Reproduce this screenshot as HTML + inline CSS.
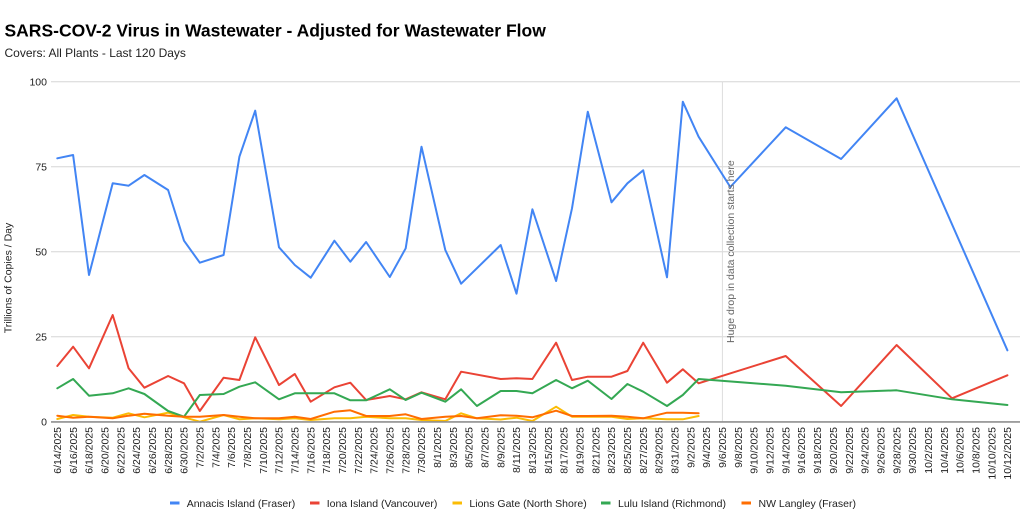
<!DOCTYPE html>
<html>
<head>
<meta charset="utf-8">
<style>
  html, body { margin: 0; padding: 0; background: #ffffff; }
  body { width: 1024px; height: 521px; overflow: hidden; }
  svg { display: block; font-family: "Liberation Sans", Arial, sans-serif; }
</style>
</head>
<body>
<svg width="1024" height="521" viewBox="0 0 1024 521" xmlns="http://www.w3.org/2000/svg">
  <rect x="0" y="0" width="1024" height="521" fill="#ffffff"/>

  <!-- Title -->
  <text x="4.5" y="36.5" font-size="17.5" font-weight="bold" fill="#000">SARS-COV-2 Virus in Wastewater - Adjusted for Wastewater Flow</text>
  <text x="4.5" y="57" font-size="12" fill="#222">Covers: All Plants - Last 120 Days</text>

  <!-- Gridlines -->
  <g stroke="#d6d6d6" stroke-width="1">
    <line x1="51" y1="81.8" x2="1020" y2="81.8"/>
    <line x1="51" y1="166.8" x2="1020" y2="166.8"/>
    <line x1="51" y1="251.8" x2="1020" y2="251.8"/>
    <line x1="51" y1="336.8" x2="1020" y2="336.8"/>
  </g>

  <!-- annotation line -->
  <line x1="722.4" y1="81.8" x2="722.4" y2="421.7" stroke="#dcdcdc" stroke-width="1"/>

  <!-- Y tick labels -->
  <g font-size="10.5" fill="#222" text-anchor="end">
    <text x="47" y="85.5">100</text>
    <text x="47" y="170.5">75</text>
    <text x="47" y="255.5">50</text>
    <text x="47" y="340.5">25</text>
    <text x="47" y="425.5">0</text>
  </g>

  <!-- Y axis title -->
  <text transform="translate(11.5,278) rotate(-90)" font-size="10.5" fill="#222" text-anchor="middle">Trillions of Copies / Day</text>

  <!-- Series -->
  <g fill="none" stroke-width="2" stroke-linejoin="round" stroke-linecap="round">
    <polyline stroke="#4285f4" points="57.3,158.3 73.1,155 89,275 112.7,183.3 128.6,185.7 144.4,175 168.1,190 184,240.7 199.8,262.7 223.6,255 239.4,156.7 255.2,110.7 279,247.3 294.8,265 310.7,277.7 334.4,240.7 350.3,261.7 366.1,242 389.8,277 405.7,248.3 421.5,146.7 445.3,250 461.1,283.7 500.7,245 516.5,293.7 532.4,209.3 556.1,281 572,208.3 587.8,111.7 611.5,202.3 627.4,183.3 643.2,170.3 667,277.3 682.8,101.7 698.6,136.7 730.3,187 785.7,127.3 841.1,159 896.6,98.3 1007.4,350.3"/>
    <polyline stroke="#ea4335" points="57.3,366 73.1,346.7 89,368.3 112.7,315 128.6,368.3 144.4,387.7 168.1,376 184,383.3 199.8,411 223.6,377.7 239.4,380 255.2,337.3 279,385 294.8,374 310.7,401.7 334.4,387.3 350.3,382.7 366.1,400 389.8,396 405.7,399.3 421.5,392.3 445.3,399.3 461.1,371.7 500.7,379 516.5,378.3 532.4,379 556.1,342.7 572,380 587.8,376.7 611.5,376.7 627.4,371 643.2,342.7 667,382.7 682.8,369.3 698.6,383.3 785.7,356 841.1,406 896.6,345 952,398.3 1007.4,375.3"/>
    <polyline stroke="#fbbc04" points="57.3,419 73.1,415 89,416.7 112.7,417.7 128.6,413.3 144.4,417.3 168.1,412.7 184,417.3 199.8,421.7 223.6,415 239.4,419.3 255.2,418.3 279,419.3 294.8,418.3 310.7,420 334.4,418.3 350.3,418.3 366.1,416.7 389.8,418.3 405.7,418.3 421.5,420 445.3,421 461.1,413.3 476.9,418.3 500.7,419.5 516.5,417.7 532.4,421 556.1,406.7 572,416.7 587.8,416.7 611.5,416.7 627.4,419 643.2,418.3 667,419.3 682.8,419.3 698.6,416"/>
    <polyline stroke="#34a853" points="57.3,388.3 73.1,379 89,395.7 112.7,393.3 128.6,388.3 144.4,394 168.1,411 184,416.7 199.8,395 223.6,394 239.4,386.7 255.2,382.3 279,399.3 294.8,393.3 310.7,393.3 334.4,393.3 350.3,400.3 366.1,400.3 389.8,389.3 405.7,400 421.5,392.7 445.3,401.7 461.1,389.3 476.9,406 500.7,391 516.5,391 532.4,393.3 556.1,380 572,388.3 587.8,380.7 611.5,399 627.4,384 643.2,391.7 667,406 682.8,395 698.6,379 785.7,385.7 841.1,392.3 896.6,390.3 952,399.3 1007.4,405"/>
    <polyline stroke="#ff6d01" points="57.3,415.7 73.1,417.7 89,416.7 112.7,418.3 128.6,415.7 144.4,413.7 168.1,415.7 184,416.7 199.8,416.7 223.6,415 239.4,416.7 255.2,418.3 279,418.3 294.8,416.7 310.7,419 334.4,411.7 350.3,410.3 366.1,416 389.8,416 405.7,414.3 421.5,419 445.3,416.7 461.1,416 476.9,418.3 500.7,415.3 516.5,415.7 532.4,417.3 556.1,410.7 572,416 587.8,416 611.5,415.7 627.4,416.7 643.2,418.3 667,412.7 682.8,412.7 698.6,413.3"/>
  </g>

  <!-- Baseline -->
  <line x1="51" y1="421.9" x2="1020" y2="421.9" stroke="#8f8f8f" stroke-width="1.6"/>

  <!-- annotation text -->
  <text transform="translate(734,343) rotate(-90)" font-size="10.5" fill="#666">Huge drop in data collection starts here</text>

  <!-- X tick labels -->
  <g font-size="10.5" fill="#222" text-anchor="end">
    <text transform="translate(61.0,427) rotate(-90)">6/14/2025</text>
    <text transform="translate(76.8,427) rotate(-90)">6/16/2025</text>
    <text transform="translate(92.7,427) rotate(-90)">6/18/2025</text>
    <text transform="translate(108.5,427) rotate(-90)">6/20/2025</text>
    <text transform="translate(124.3,427) rotate(-90)">6/22/2025</text>
    <text transform="translate(140.2,427) rotate(-90)">6/24/2025</text>
    <text transform="translate(156.0,427) rotate(-90)">6/26/2025</text>
    <text transform="translate(171.8,427) rotate(-90)">6/28/2025</text>
    <text transform="translate(187.7,427) rotate(-90)">6/30/2025</text>
    <text transform="translate(203.5,427) rotate(-90)">7/2/2025</text>
    <text transform="translate(219.4,427) rotate(-90)">7/4/2025</text>
    <text transform="translate(235.2,427) rotate(-90)">7/6/2025</text>
    <text transform="translate(251.0,427) rotate(-90)">7/8/2025</text>
    <text transform="translate(266.9,427) rotate(-90)">7/10/2025</text>
    <text transform="translate(282.7,427) rotate(-90)">7/12/2025</text>
    <text transform="translate(298.5,427) rotate(-90)">7/14/2025</text>
    <text transform="translate(314.4,427) rotate(-90)">7/16/2025</text>
    <text transform="translate(330.2,427) rotate(-90)">7/18/2025</text>
    <text transform="translate(346.0,427) rotate(-90)">7/20/2025</text>
    <text transform="translate(361.9,427) rotate(-90)">7/22/2025</text>
    <text transform="translate(377.7,427) rotate(-90)">7/24/2025</text>
    <text transform="translate(393.5,427) rotate(-90)">7/26/2025</text>
    <text transform="translate(409.4,427) rotate(-90)">7/28/2025</text>
    <text transform="translate(425.2,427) rotate(-90)">7/30/2025</text>
    <text transform="translate(441.0,427) rotate(-90)">8/1/2025</text>
    <text transform="translate(456.9,427) rotate(-90)">8/3/2025</text>
    <text transform="translate(472.7,427) rotate(-90)">8/5/2025</text>
    <text transform="translate(488.5,427) rotate(-90)">8/7/2025</text>
    <text transform="translate(504.4,427) rotate(-90)">8/9/2025</text>
    <text transform="translate(520.2,427) rotate(-90)">8/11/2025</text>
    <text transform="translate(536.1,427) rotate(-90)">8/13/2025</text>
    <text transform="translate(551.9,427) rotate(-90)">8/15/2025</text>
    <text transform="translate(567.7,427) rotate(-90)">8/17/2025</text>
    <text transform="translate(583.6,427) rotate(-90)">8/19/2025</text>
    <text transform="translate(599.4,427) rotate(-90)">8/21/2025</text>
    <text transform="translate(615.2,427) rotate(-90)">8/23/2025</text>
    <text transform="translate(631.1,427) rotate(-90)">8/25/2025</text>
    <text transform="translate(646.9,427) rotate(-90)">8/27/2025</text>
    <text transform="translate(662.7,427) rotate(-90)">8/29/2025</text>
    <text transform="translate(678.6,427) rotate(-90)">8/31/2025</text>
    <text transform="translate(694.4,427) rotate(-90)">9/2/2025</text>
    <text transform="translate(710.2,427) rotate(-90)">9/4/2025</text>
    <text transform="translate(726.1,427) rotate(-90)">9/6/2025</text>
    <text transform="translate(741.9,427) rotate(-90)">9/8/2025</text>
    <text transform="translate(757.7,427) rotate(-90)">9/10/2025</text>
    <text transform="translate(773.6,427) rotate(-90)">9/12/2025</text>
    <text transform="translate(789.4,427) rotate(-90)">9/14/2025</text>
    <text transform="translate(805.2,427) rotate(-90)">9/16/2025</text>
    <text transform="translate(821.1,427) rotate(-90)">9/18/2025</text>
    <text transform="translate(836.9,427) rotate(-90)">9/20/2025</text>
    <text transform="translate(852.8,427) rotate(-90)">9/22/2025</text>
    <text transform="translate(868.6,427) rotate(-90)">9/24/2025</text>
    <text transform="translate(884.4,427) rotate(-90)">9/26/2025</text>
    <text transform="translate(900.3,427) rotate(-90)">9/28/2025</text>
    <text transform="translate(916.1,427) rotate(-90)">9/30/2025</text>
    <text transform="translate(931.9,427) rotate(-90)">10/2/2025</text>
    <text transform="translate(947.8,427) rotate(-90)">10/4/2025</text>
    <text transform="translate(963.6,427) rotate(-90)">10/6/2025</text>
    <text transform="translate(979.4,427) rotate(-90)">10/8/2025</text>
    <text transform="translate(995.3,427) rotate(-90)">10/10/2025</text>
    <text transform="translate(1011.1,427) rotate(-90)">10/12/2025</text>
  </g>

  <!-- Legend -->
  <g font-size="10.5" fill="#222">
    <rect x="170" y="501.5" width="9.5" height="3" fill="#4285f4"/>
    <text x="186.7" y="507">Annacis Island (Fraser)</text>
    <rect x="310" y="501.5" width="9.5" height="3" fill="#ea4335"/>
    <text x="326.7" y="507">Iona Island (Vancouver)</text>
    <rect x="452.5" y="501.5" width="9.5" height="3" fill="#fbbc04"/>
    <text x="469.4" y="507">Lions Gate (North Shore)</text>
    <rect x="601" y="501.5" width="9.5" height="3" fill="#34a853"/>
    <text x="618" y="507">Lulu Island (Richmond)</text>
    <rect x="741.5" y="501.5" width="9.5" height="3" fill="#ff6d01"/>
    <text x="758.5" y="507">NW Langley (Fraser)</text>
  </g>
</svg>
</body>
</html>
